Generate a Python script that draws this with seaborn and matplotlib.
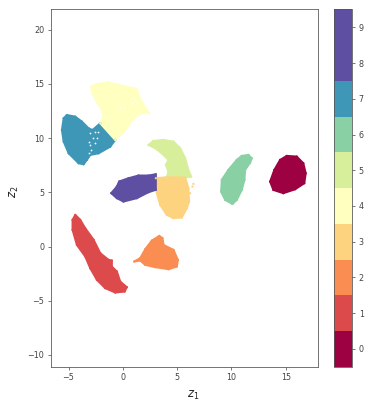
import numpy as np
import pandas as pd
import matplotlib
matplotlib.use('Agg')
import matplotlib.pyplot as plt
from matplotlib.colors import ListedColormap, BoundaryNorm
from matplotlib.cm import ScalarMappable
import seaborn as sns

# cluster outlines (z1, z2)
digit_0_z1 = [15.09, 16.01, 16.62, 16.84, 16.71, 15.86, 14.78, 13.86, 13.56, 13.95, 14.48]
digit_0_z2 = [8.36, 8.3, 7.68, 6.76, 5.84, 5.28, 4.92, 5.22, 5.99, 7.07, 7.99]
digit_1_z1 = [-4.38, -3.92, -3.46, -2.69, -2.08, -1.31, -1.01, -1.01, -0.55, -0.24, 0.37, 0.16, -0.7, -1.62, -2.39, -3.0, -3.46, -4.23, -4.63, -4.63]
digit_1_z2 = [2.92, 2.46, 1.69, 0.62, -0.61, -1.23, -1.29, -1.84, -2.3, -3.23, -3.75, -4.15, -4.24, -3.84, -3.07, -2.0, -0.92, 0.15, 1.54, 2.46]
digit_2_z1 = [1.05, 1.6, 2.06, 2.67, 3.35, 3.65, 3.75, 4.67, 5.07, 4.97, 4.21, 2.98, 2.06, 1.6]
digit_2_z2 = [-1.38, -1.07, -0.25, 0.55, 0.98, 0.77, 0.15, -0.31, -1.23, -1.84, -2.09, -1.9, -1.69, -1.29]
digit_3_z1 = [3.04, 4.05, 5.74, 6.04, 6.1, 5.89, 5.43, 4.66, 4.05, 3.44, 3.13]
digit_3_z2 = [6.3, 6.39, 6.36, 5.38, 4.15, 3.54, 2.68, 2.62, 2.92, 3.84, 4.92]
digit_4_z1 = [-2.94, -2.39, -1.31, -0.09, 1.29, 1.51, 1.81, 2.12, 2.43, 1.91, 1.14, 0.07, -0.7, -2.08, -1.77, -1.93, -2.39, -2.79]
digit_4_z2 = [14.74, 14.99, 15.14, 14.84, 14.53, 13.82, 13.21, 12.75, 12.29, 12.38, 11.98, 10.6, 9.83, 11.37, 11.98, 12.6, 13.36, 14.13]
digit_5_z1 = [2.36, 2.82, 3.74, 4.66, 5.28, 5.74, 5.98, 6.29, 5.74, 4.05, 4.2, 3.96, 4.2, 3.59, 2.98]
digit_5_z2 = [9.37, 9.74, 9.83, 9.68, 9.07, 8.14, 7.22, 6.45, 6.36, 6.36, 6.92, 7.53, 7.99, 8.6, 9.07]
digit_6_z1 = [10.95, 11.56, 11.87, 11.72, 11.26, 11.2, 10.95, 10.49, 10.09, 9.42, 9.05, 9.11, 9.72, 10.49]
digit_6_z2 = [8.36, 8.45, 8.14, 7.74, 7.07, 6.15, 5.22, 4.3, 3.93, 4.3, 5.07, 6.15, 7.07, 7.99]
digit_7_z1 = [-5.45, -5.15, -4.38, -3.77, -3.15, -2.79, -2.08, -0.7, -1.16, -2.23, -3.0, -3.31, -3.61, -4.07, -4.99, -5.45, -5.61]
digit_7_z2 = [11.83, 12.13, 11.98, 11.52, 10.9, 10.75, 11.37, 9.83, 9.21, 8.6, 8.45, 7.99, 7.59, 7.68, 8.6, 9.68, 10.75]
digit_8_z1 = [-1.07, -0.55, -0.34, 0.52, 1.44, 2.36, 3.04, 3.04, 2.36, 1.29, 0.06, -0.55]
digit_8_z2 = [4.92, 5.53, 6.0, 6.3, 6.55, 6.55, 6.67, 5.23, 5.01, 4.46, 4.15, 4.46]

# stray points just outside digit 3
stray_3_z1 = [6.5, 6.41, 6.2]
stray_3_z2 = [5.78, 5.53, 4.92]

# gaps inside the clusters
gap_z1 = [-3.0, -2.6, -2.3, -2.79, -2.39, -3.0, -2.6, -2.9, -3.15, -3.15, 1.14, 0.89, 0.07, -0.24, 0.59, 1.35]
gap_z2 = [10.44, 10.6, 10.6, 9.98, 9.98, 9.37, 9.52, 8.91, 9.68, 8.6, 13.52, 13.21, 12.84, 12.75, 13.05, 13.3]

digits = list(range(10))
x_ticks = [-5, 0, 5, 10, 15]
y_ticks = [-10, -5, 0, 5, 10, 15, 20]

outlines = {
    0: (digit_0_z1, digit_0_z2), 1: (digit_1_z1, digit_1_z2),
    2: (digit_2_z1, digit_2_z2), 5: (digit_5_z1, digit_5_z2),
    3: (digit_3_z1, digit_3_z2), 7: (digit_7_z1, digit_7_z2),
    4: (digit_4_z1, digit_4_z2), 6: (digit_6_z1, digit_6_z2),
    8: (digit_8_z1, digit_8_z2),
}

sns.set_style('ticks')

# the last two classes share one colour in the original colorbar
base = plt.get_cmap('Spectral', 9)
colors = [base(i) for i in range(9)] + [base(8)]
cmap = ListedColormap(colors)
norm = BoundaryNorm(np.arange(-0.5, 10.5), cmap.N)

fig = plt.figure(figsize=(371 / 72, 411 / 72), dpi=72)
ax = fig.add_axes([50.5 / 371, 1 - 366.7 / 411, 267.5 / 371, 357.2 / 411])
cax = fig.add_axes([334.3 / 371, 1 - 366.7 / 411, 18 / 371, 357.2 / 411])

rows = []
for d, (z1, z2) in outlines.items():
    ax.fill(z1, z2, color=colors[d], lw=2, joinstyle='round', zorder=2)
    rows += [{'z1': a, 'z2': b, 'digit': d} for a, b in zip(z1, z2)]
rows += [{'z1': a, 'z2': b, 'digit': 3} for a, b in zip(stray_3_z1, stray_3_z2)]
df = pd.DataFrame(rows)
sns.scatterplot(data=df, x='z1', y='z2', hue='digit', palette={d: colors[d] for d in outlines},
                s=5, linewidth=0, legend=False, ax=ax, zorder=3)
ax.scatter(gap_z1, gap_z2, c='white', s=3, linewidths=0, zorder=4)

ax.set_xlim(-6.66, 17.97)
ax.set_ylim(-11.08, 21.86)
ax.set_xticks(x_ticks)
ax.set_yticks(y_ticks)
ax.set_xlabel('$z_1$', fontsize=11.5, labelpad=7, color='#222222', x=0.534)
ax.set_ylabel('$z_2$', fontsize=11.5, labelpad=6, color='#222222', y=0.49)
ax.tick_params(labelsize=8, length=3, width=0.7, colors='#444444')
for s in ax.spines.values():
    s.set_color('#555555')
    s.set_linewidth(0.8)
    s.set_visible(True)

cb = fig.colorbar(ScalarMappable(norm=norm, cmap=cmap), cax=cax, ticks=digits)
cb.ax.tick_params(labelsize=8, length=3, width=0.7, colors='#444444')
cb.ax.minorticks_off()
cb.outline.set_linewidth(0.8)
cb.outline.set_edgecolor('#555555')

fig.savefig('out.png', dpi=72)
